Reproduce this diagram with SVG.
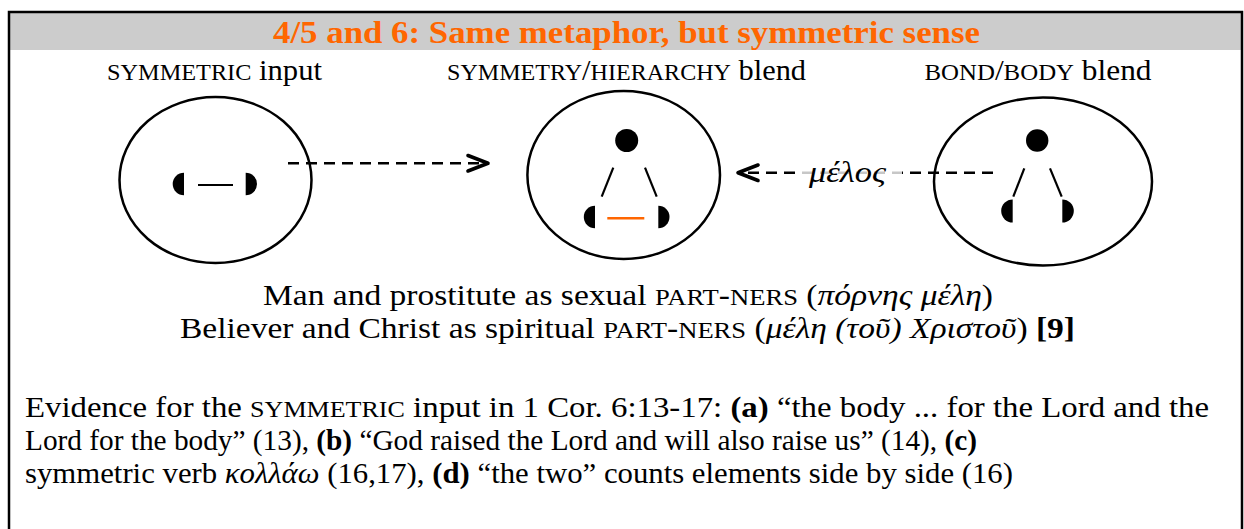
<svg xmlns="http://www.w3.org/2000/svg" width="1244" height="529" viewBox="0 0 1244 529">
<style>
.t{font-family:"Liberation Serif","DejaVu Serif",serif;font-size:29px;fill:#000}
.sc{font-size:23px}
.it{font-style:italic}
.b{font-weight:bold}
.ell{fill:none;stroke:#000;stroke-width:2.5}
.ln{stroke:#000;stroke-width:2.2;fill:none}
.dsh{stroke:#000;stroke-width:2.6;stroke-dasharray:11 7;fill:none}
.hd{fill:none;stroke:#000;stroke-width:3.6;stroke-linecap:round;stroke-linejoin:round}
</style>
<rect x="0" y="0" width="1244" height="529" fill="#fff"/>
<g id="frame">
<rect x="9" y="12" width="1233" height="38" fill="#cccccc"/>
<path d="M9,540 V12 H1242 V540" fill="none" stroke="#000" stroke-width="2.5"/>
</g>
<g id="title">
<text class="t b" x="626.5" y="43" text-anchor="middle" style="font-size:31px;fill:#ff6600" textLength="707" lengthAdjust="spacingAndGlyphs">4/5 and 6: Same metaphor, but symmetric sense</text>
</g>
<g id="node-symmetric">
<text class="t" x="214.5" y="80" text-anchor="middle" textLength="215" lengthAdjust="spacingAndGlyphs"><tspan class="sc">SYMMETRIC</tspan> input</text>
<ellipse class="ell" cx="215.5" cy="180" rx="96" ry="83"/>
<path d="M184,172.7 A11.3,11.3 0 0 0 184,195.3 Z"/>
<path d="M245.7,172.7 A11.3,11.3 0 0 1 245.7,195.3 Z"/>
<line class="ln" x1="198" y1="185" x2="233" y2="185"/>
</g>
<g id="node-symmetry-hierarchy">
<text class="t" x="626.5" y="80" text-anchor="middle" textLength="359" lengthAdjust="spacingAndGlyphs"><tspan class="sc">SYMMETRY</tspan>/<tspan class="sc">HIERARCHY</tspan> blend</text>
<ellipse class="ell" cx="623.7" cy="175" rx="96.3" ry="84"/>
<circle cx="626.7" cy="140.5" r="11.5"/>
<line class="ln" x1="613.3" y1="167.7" x2="601.7" y2="196.7"/>
<line class="ln" x1="645" y1="167.7" x2="656.7" y2="196.7"/>
<path d="M595,205.8 A11.2,11.2 0 0 0 595,228.2 Z"/>
<path d="M658.3,205.8 A11.2,11.2 0 0 1 658.3,228.2 Z"/>
<line x1="607.3" y1="218.3" x2="644.3" y2="218.3" stroke="#ff6600" stroke-width="2.5"/>
</g>
<g id="node-bond-body">
<text class="t" x="1038" y="80" text-anchor="middle" textLength="227" lengthAdjust="spacingAndGlyphs"><tspan class="sc">BOND</tspan>/<tspan class="sc">BODY</tspan> blend</text>
<ellipse class="ell" cx="1043" cy="181.5" rx="109" ry="84"/>
<circle cx="1037.2" cy="140.5" r="11.2"/>
<line class="ln" x1="1024.3" y1="168.3" x2="1013.3" y2="196.7"/>
<line class="ln" x1="1050" y1="168.3" x2="1061.7" y2="196.7"/>
<path d="M1012.7,199.5 A11.5,11.5 0 0 0 1012.7,222.5 Z"/>
<path d="M1062.3,199.5 A11.5,11.5 0 0 1 1062.3,222.5 Z"/>
</g>
<g id="connectors">
<line class="dsh" x1="288" y1="163.3" x2="487" y2="163.3"/>
<polyline class="hd" points="468,155.5 488,163.3 468,171"/>
<line class="dsh" x1="993" y1="172.7" x2="739" y2="172.7"/>
<polyline class="hd" points="758,165 738,172.7 758,180.5"/>
<rect x="796" y="158" width="106" height="30" fill="#fff" opacity="0.78"/>
<text class="t it" x="847.5" y="182" text-anchor="middle" textLength="77" lengthAdjust="spacingAndGlyphs">μέλος</text>
</g>
<g id="caption">
<text class="t" x="628" y="305" text-anchor="middle" textLength="730" lengthAdjust="spacingAndGlyphs">Man and prostitute as sexual <tspan class="sc">PART</tspan>-<tspan class="sc">NERS</tspan> (<tspan class="it">πόρνης μέλη</tspan>)</text>
<text class="t" x="627.5" y="338" text-anchor="middle" textLength="895" lengthAdjust="spacingAndGlyphs">Believer and Christ as spiritual <tspan class="sc">PART</tspan>-<tspan class="sc">NERS</tspan> (<tspan class="it">μέλη (τοῦ) Χριστοῦ</tspan>) <tspan class="b">[9]</tspan></text>
</g>
<g id="evidence">
<text class="t" x="25" y="417" textLength="1184" lengthAdjust="spacingAndGlyphs">Evidence for the <tspan class="sc">SYMMETRIC</tspan> input in 1 Cor. 6:13-17: <tspan class="b">(a)</tspan> “the body ... for the Lord and the</text>
<text class="t" x="25" y="450" textLength="952" lengthAdjust="spacingAndGlyphs">Lord for the body” (13), <tspan class="b">(b)</tspan> “God raised the Lord and will also raise us” (14), <tspan class="b">(c)</tspan></text>
<text class="t" x="25" y="483" textLength="988" lengthAdjust="spacingAndGlyphs">symmetric verb <tspan class="it">κολλάω</tspan> (16,17), <tspan class="b">(d)</tspan> “the two” counts elements side by side (16)</text>
</g>
</svg>
